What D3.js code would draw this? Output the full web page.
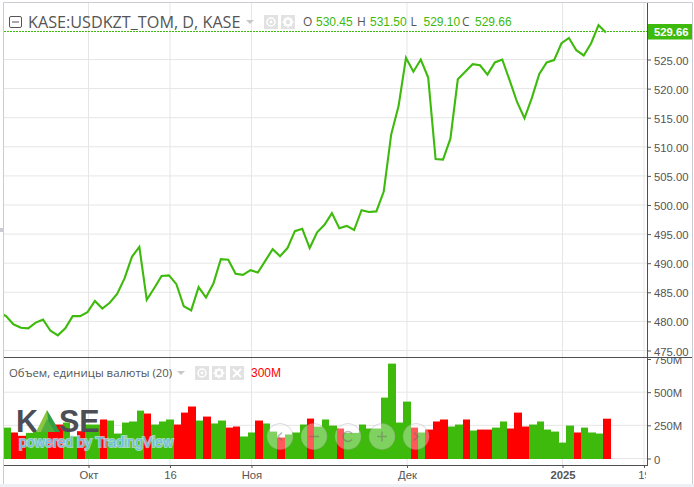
<!DOCTYPE html>
<html lang="ru">
<head>
    <meta charset="UTF-8">
    <title>KASE:USDKZT_TOM, D, KASE</title>
    <script src="https://d3js.org/d3.v7.min.js"></script>
    <style>
        html, body { margin: 0; padding: 0; background: #fff; overflow: hidden; }
        svg { display: block; }
        text { font-family: "Liberation Sans", Arial, sans-serif; }
        .axis text { font-size: 11.3px; fill: #555; }
        .axis path { display: none; }
        .axis line { stroke: #555; }
        .legend { font-family: "Open Sans", sans-serif; fill: #555; }
    </style>
</head>
<body>
    <div id="chart"></div>

    <script>
        // session numbers: 0 is the first close, which sits just off the left edge
        const closes = [
            481.6, 480.9, 479.5, 478.9, 478.8, 479.8, 480.3, 478.4, 477.6, 478.8, 480.9, 480.9,
            481.6, 483.5, 482.2, 483.2, 484.7, 487.4, 491.1, 492.8, 483.7, 485.7, 487.8, 487.9,
            486.4, 482.6, 481.9, 485.9, 484.1, 486.5, 490.7, 490.6, 488.2, 488.0, 488.8, 488.4,
            490.4, 492.4, 491.2, 492.6, 495.5, 495.9, 492.6, 495.3, 496.6, 498.6, 496.0, 496.4,
            495.7, 499.1, 498.8, 498.9, 502.3, 512.1, 517.0, 525.3, 522.9, 525.0, 521.9, 507.9,
            507.8, 511.4, 521.6, 522.9, 524.2, 524.0, 522.4, 524.5, 525.0, 521.4, 517.7, 514.9,
            518.4, 522.5, 524.5, 524.9, 527.8, 528.7, 526.6, 525.7, 527.8, 530.9, 529.66
        ];
        // volumes in millions, first bar is session 1
        const volumes = [
            233, 196, 171, 193, 208, 208, 256, 256, 271, 166, 206, 256, 256, 294, 286, 188,
            271, 279, 361, 339, 256, 279, 294, 256, 346, 392, 286, 316, 264, 286, 233, 241,
            166, 196, 286, 264, 203, 158, 181, 196, 256, 301, 240, 294, 248, 226, 193, 193,
            256, 226, 226, 459, 715, 271, 429, 233, 196, 218, 279, 294, 241, 256, 294, 211,
            218, 218, 233, 279, 226, 346, 241, 256, 279, 218, 203, 120, 248, 196, 233, 196,
            188, 300
        ];
        const downSessions = [
            2, 3, 7, 8, 11, 14, 20, 24, 25, 26, 28, 31, 32, 35, 38, 42, 46, 56, 58, 59, 60,
            63, 65, 66, 69, 70, 71, 78, 82
        ];
        const priceTicks = [475, 480, 485, 490, 495, 500, 505, 510, 515, 520, 525];
        const volumeTicks = [0, 250, 500, 750];
        const timeTicks = [12, 23, 34, 55, 76, 87];
        const timeLabels = ["Окт", "16", "Ноя", "Дек", "2025", "19"];
        const ohlc = [["O", "530.45"], ["H", "531.50"], ["L", "529.10"], ["C", "529.66"]];

        const width = 694, height = 487;
        const green = "#3dba0c", red = "#ff0000", gridColor = "#e6e6e6", axisColor = "#4f4f4f";
        const plot = { left: 4, right: 647, top: 3, split: 357, bottom: 465 };

        const svg = d3.select("#chart").append("svg").attr("width", width).attr("height", height);

        const x = d3.scaleLinear().domain([12, 76]).range([88.5, 562.5]);
        const yPrice = d3.scaleLinear().domain([475, 525]).range([350.5, 59.5]);
        const yVolume = d3.scaleLinear().domain([0, 750]).range([458.5, 359]);

        const defs = svg.append("defs");
        defs.append("clipPath").attr("id", "plot-clip").append("rect")
            .attr("x", plot.left).attr("y", plot.top)
            .attr("width", plot.right - plot.left).attr("height", plot.bottom - plot.top);
        defs.append("clipPath").attr("id", "time-clip").append("rect")
            .attr("x", plot.left).attr("y", plot.bottom)
            .attr("width", 642).attr("height", 20);
        defs.append("clipPath").attr("id", "vol-axis-clip").append("rect")
            .attr("x", plot.right).attr("y", plot.split + 1)
            .attr("width", 46).attr("height", plot.bottom - plot.split);

        // frame
        svg.append("rect").attr("x", 0).attr("y", 484).attr("width", width).attr("height", 3).attr("fill", "#edf0f5");
        svg.append("path").attr("fill", "none").attr("stroke", "#c9ccd3")
            .attr("d", "M3.5,484V2.5H692.5V484");
        svg.append("rect").attr("x", 0).attr("y", 228).attr("width", 3).attr("height", 4).attr("fill", "#c9ccd3");

        // grid
        const grid = svg.append("g").attr("stroke", gridColor).attr("clip-path", "url(#plot-clip)");
        grid.selectAll(".gx").data(timeTicks).enter().append("line")
            .attr("x1", d => x(d)).attr("x2", d => x(d))
            .attr("y1", plot.top).attr("y2", plot.bottom);
        grid.selectAll(".gp").data(priceTicks).enter().append("line")
            .attr("x1", plot.left).attr("x2", plot.right)
            .attr("y1", d => yPrice(d)).attr("y2", d => yPrice(d));
        grid.selectAll(".gv").data(volumeTicks.slice(0, 3)).enter().append("line")
            .attr("x1", plot.left).attr("x2", plot.right)
            .attr("y1", d => yVolume(d)).attr("y2", d => yVolume(d));

        // volume bars
        const bars = svg.append("g").attr("clip-path", "url(#plot-clip)");
        bars.selectAll("rect").data(volumes).enter().append("rect")
            .attr("x", (d, i) => Math.round(x(i + 1) - 3.7))
            .attr("width", (d, i) => Math.round(x(i + 2) - 3.7) - Math.round(x(i + 1) - 3.7))
            .attr("y", d => yVolume(d))
            .attr("height", d => 459 - yVolume(d))
            .attr("fill", (d, i) => downSessions.includes(i + 1) ? red : green);

        // price line
        const line = d3.line().x((d, i) => x(i) - 1).y(d => yPrice(d));
        svg.append("g").attr("clip-path", "url(#plot-clip)").append("path")
            .datum(closes)
            .attr("d", line)
            .attr("fill", "none")
            .attr("stroke", green)
            .attr("stroke-width", 2.1)
            .attr("stroke-linejoin", "miter");

        // last price line
        const lastY = Math.floor(yPrice(closes[closes.length - 1])) - 0.5;
        svg.append("line")
            .attr("x1", plot.left).attr("x2", plot.right)
            .attr("y1", lastY).attr("y2", lastY)
            .attr("stroke", green).attr("stroke-dasharray", "2,1");

        // watermark
        const mark = svg.append("g");
        mark.append("text").attr("x", 16).attr("y", 432).attr("font-size", 30.5).attr("font-weight", 700).attr("fill", "#4d4d55").text("K");
        mark.append("text").attr("x", 59).attr("y", 432).attr("font-size", 30.5).attr("font-weight", 700).attr("fill", "#4d4d55").text("SE");
        mark.append("path").attr("d", "M47,410L36,432H48Z").attr("fill", "#8cc63f");
        mark.append("path").attr("d", "M47,410L48,432H60Z").attr("fill", "#2f9e44");
        mark.append("path").attr("d", "M47,419L41,432H55Z").attr("fill", "#4fae3c");
        mark.append("text").attr("x", 19).attr("y", 446.5)
            .attr("font-size", 14.1)
            .attr("fill", "#6fbcea")
            .attr("stroke", "#cfe8f2").attr("stroke-width", 2).attr("stroke-opacity", 0.7)
            .attr("paint-order", "stroke")
            .text("powered by TradingView");

        // navigation buttons
        const navX = [280, 314, 348, 382, 416];
        const navIcons = ["M2,-4L-2,0L2,4", "M-5,0H5", "M4,-3A5,5 0 1 0 4,3", "M-5,0H5M0,-5V5", "M-2,-4L2,0L-2,4"];
        const nav = svg.append("g");
        navX.forEach((cx, i) => {
            const b = nav.append("g").attr("transform", `translate(${cx},436.5)`);
            b.append("circle").attr("r", 13)
                .attr("fill", "#fff").attr("fill-opacity", 0.35)
                .attr("stroke", "#999").attr("stroke-opacity", 0.35).attr("stroke-width", 1);
            b.append("path").attr("d", navIcons[i])
                .attr("fill", "none").attr("stroke", "#666").attr("stroke-opacity", 0.45).attr("stroke-width", 1.6);
        });

        // axes
        const priceAxis = svg.append("g").attr("class", "axis")
            .attr("transform", `translate(${plot.right},0)`)
            .call(d3.axisRight(yPrice).tickValues(priceTicks).tickFormat(d3.format(".2f")).tickSize(4).tickPadding(3));
        const volumeAxis = svg.append("g").attr("class", "axis")
            .attr("clip-path", "url(#vol-axis-clip)")
            .append("g")
            .attr("transform", `translate(${plot.right},0)`)
            .call(d3.axisRight(yVolume).tickValues(volumeTicks).tickFormat(d => d === 0 ? "0" : d + "M").tickSize(4).tickPadding(3));
        priceAxis.selectAll("text").attr("dy", "0.4em");
        volumeAxis.selectAll("text").attr("dy", "0.4em");

        const timeAxis = svg.append("g").attr("class", "axis")
            .attr("clip-path", "url(#time-clip)")
            .append("g")
            .attr("transform", `translate(0,${plot.bottom})`)
            .call(d3.axisBottom(x).tickValues(timeTicks).tickFormat((d, i) => timeLabels[i]).tickSize(3).tickPadding(3));
        timeAxis.selectAll("text").attr("font-weight", (d, i) => timeLabels[i] === "2025" ? 700 : 400);

        // pane borders
        const borders = svg.append("g").attr("stroke", axisColor).attr("fill", "none");
        borders.append("line").attr("x1", plot.right + 0.5).attr("x2", plot.right + 0.5).attr("y1", plot.top).attr("y2", plot.bottom + 0.5);
        borders.append("line").attr("x1", plot.left).attr("x2", 692).attr("y1", plot.split + 0.5).attr("y2", plot.split + 0.5);
        borders.append("line").attr("x1", plot.left).attr("x2", plot.right + 1).attr("y1", plot.bottom + 0.5).attr("y2", plot.bottom + 0.5);

        // last price label
        svg.append("rect").attr("x", 648).attr("y", 24).attr("width", 44).attr("height", 15.5).attr("fill", green);
        svg.append("text").attr("x", 654).attr("y", 36).attr("font-size", 11.3).attr("font-weight", 700).attr("fill", "#fff").text(closes[closes.length - 1]);

        // legend icons
        function iconBox(bx, by, glyph) {
            const g = svg.append("g").attr("transform", `translate(${bx},${by})`);
            g.append("rect").attr("width", 14).attr("height", 14).attr("fill", "#e2e2e2");
            if (glyph === "eye") {
                g.append("circle").attr("cx", 7).attr("cy", 7).attr("r", 4).attr("fill", "none").attr("stroke", "#fff").attr("stroke-width", 1.5);
                g.append("circle").attr("cx", 7).attr("cy", 7).attr("r", 1.4).attr("fill", "#fff");
            } else if (glyph === "gear") {
                g.append("circle").attr("cx", 7).attr("cy", 7).attr("r", 3.4).attr("fill", "none").attr("stroke", "#fff").attr("stroke-width", 2.4);
                g.append("path").attr("d", "M7,1.5V12.5M1.5,7H12.5M3.2,3.2L10.8,10.8M10.8,3.2L3.2,10.8").attr("stroke", "#fff").attr("stroke-width", 1.3).attr("stroke-dasharray", "2,7");
            } else {
                g.append("path").attr("d", "M3,3L11,11M11,3L3,11").attr("stroke", "#fff").attr("stroke-width", 2);
            }
        }
        function caret(cx, cy) {
            svg.append("path").attr("d", `M${cx - 4},${cy - 2}H${cx + 4}L${cx},${cy + 2}Z`).attr("fill", "#c8c8c8");
        }

        // main legend
        svg.append("rect").attr("x", 9.5).attr("y", 16.5).attr("width", 12).attr("height", 11).attr("rx", 1.5).attr("fill", "none").attr("stroke", "#555");
        svg.append("line").attr("x1", 12).attr("x2", 19).attr("y1", 22).attr("y2", 22).attr("stroke", "#555");
        svg.append("text").attr("class", "legend").attr("x", 28).attr("y", 27.5).attr("font-size", 16.2).text("KASE:USDKZT_TOM, D, KASE");
        caret(250, 22);
        iconBox(264, 15, "eye");
        iconBox(281, 15, "gear");

        const ohlcX = [303, 357, 410.5, 462];
        ohlc.forEach((d, i) => {
            svg.append("text").attr("class", "legend").attr("x", ohlcX[i]).attr("y", 26).attr("font-size", 12).text(d[0]);
            svg.append("text").attr("x", ohlcX[i] + 13).attr("y", 26).attr("font-size", 12).attr("fill", green).text(d[1]);
        });

        // volume legend
        svg.append("text").attr("class", "legend").attr("x", 9).attr("y", 377).attr("font-size", 11.4).text("Объем, единицы валюты (20)");
        caret(181, 373);
        iconBox(195, 366, "eye");
        iconBox(212, 366, "gear");
        iconBox(230, 366, "close");
        svg.append("text").attr("x", 251).attr("y", 377).attr("font-size", 12).attr("fill", red).text(volumes[volumes.length - 1] + "M");
    </script>
</body>
</html>
